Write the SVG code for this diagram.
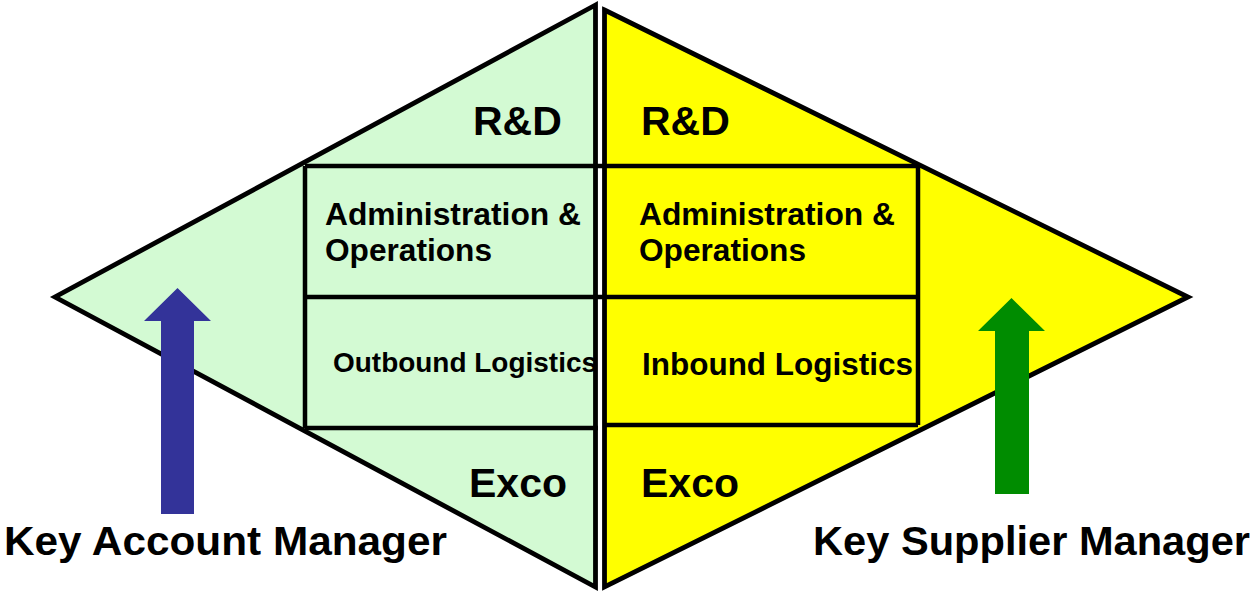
<svg xmlns="http://www.w3.org/2000/svg" width="1256" height="593" viewBox="0 0 1256 593">
  <style>
    .tri { stroke: #000; stroke-width: 4.8; stroke-linejoin: miter; stroke-miterlimit: 10; }
    .box { fill: none; stroke: #000; stroke-width: 4.5; }
    .lbl { font-family: "Liberation Sans", Arial, Helvetica, sans-serif; font-weight: bold; fill: #000; }
    .big { font-size: 41px; }
    .mid { font-size: 31px; }
    .role { font-size: 41px; }
  </style>
  <rect width="1256" height="593" fill="#fff"/>

  <!-- customer side (left half of the diamond) -->
  <g id="customer-side">
    <polygon class="tri" fill="#D3FAD3" points="595.5,5 55,297 595.5,587"/>
  </g>

  <!-- supplier side (right half of the diamond) -->
  <g id="supplier-side">
    <polygon class="tri" fill="#FFFF00" points="604.5,10 1188,297 604.5,587"/>
  </g>

  <!-- middle band: admin / logistics boxes -->
  <g id="boxes">
    <line class="box" x1="305" y1="166" x2="918" y2="166"/>
    <line class="box" x1="305" y1="297" x2="918" y2="297"/>
    <line class="box" x1="305" y1="428" x2="598" y2="428"/>
    <line class="box" x1="603" y1="425" x2="918" y2="425"/>
    <line class="box" x1="305" y1="166" x2="305" y2="428"/>
    <line class="box" x1="918" y1="166" x2="918" y2="425"/>
  </g>

  <g id="rd-left"><text class="lbl big" x="473" y="135">R&amp;D</text></g>
  <g id="rd-right"><text class="lbl big" x="641" y="135">R&amp;D</text></g>

  <g id="admin-left">
    <text class="lbl mid" x="325" y="225" textLength="256" lengthAdjust="spacingAndGlyphs">Administration &amp;</text>
    <text class="lbl mid" x="325" y="261" textLength="167" lengthAdjust="spacingAndGlyphs">Operations</text>
  </g>
  <g id="admin-right">
    <text class="lbl mid" x="639" y="225" textLength="256" lengthAdjust="spacingAndGlyphs">Administration &amp;</text>
    <text class="lbl mid" x="639" y="261" textLength="167" lengthAdjust="spacingAndGlyphs">Operations</text>
  </g>

  <g id="outbound"><text class="lbl" font-size="28" x="333" y="372" textLength="264" lengthAdjust="spacingAndGlyphs">Outbound Logistics</text></g>
  <g id="inbound"><text class="lbl mid" x="642" y="375" textLength="271" lengthAdjust="spacingAndGlyphs">Inbound Logistics</text></g>

  <g id="exco-left"><text class="lbl big" x="469" y="497">Exco</text></g>
  <g id="exco-right"><text class="lbl big" x="641" y="497">Exco</text></g>

  <!-- upward arrows for the two managers -->
  <g id="arrows">
    <polygon fill="#333399" points="177.5,288 211,321 194,321 194,514 161,514 161,321 144,321"/>
    <polygon fill="#008C00" points="1011.5,298 1045,331 1029,331 1029,494 995,494 995,331 978,331"/>
  </g>

  <g id="key-account-manager"><text class="lbl role" x="4" y="555" textLength="443" lengthAdjust="spacingAndGlyphs">Key Account Manager</text></g>
  <g id="key-supplier-manager"><text class="lbl role" x="813" y="555" textLength="437" lengthAdjust="spacingAndGlyphs">Key Supplier Manager</text></g>
</svg>
